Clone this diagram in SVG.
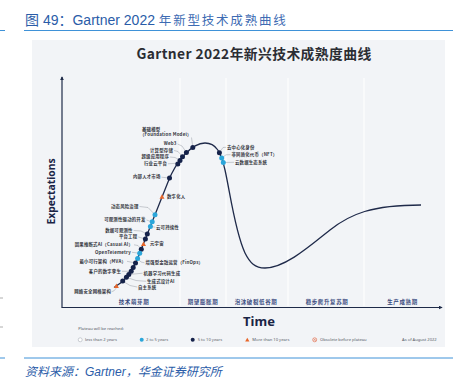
<svg xmlns="http://www.w3.org/2000/svg" xmlns:xlink="http://www.w3.org/1999/xlink" width="459" height="386" viewBox="0 0 459 386">
<style>
.hdr{font-family:"Liberation Sans","Noto Sans CJK SC",sans-serif;fill:#2a5ca8}
.rule{stroke:#3f92d8;stroke-width:1}
.lbl{font-family:"Noto Sans CJK SC","Noto Sans",sans-serif;font-size:4.4px;font-weight:700;fill:#34363d;letter-spacing:0.2px}
.ph{font-family:"Noto Sans CJK SC",sans-serif;font-size:5.5px;font-weight:700;fill:#3a4c80;letter-spacing:0.6px;text-anchor:middle}
.lg{font-family:"Noto Sans","Liberation Sans",sans-serif;font-size:4.1px;fill:#555a66}
.ax{stroke:#1e2a48;stroke-width:1.2;fill:none}
.sep{stroke:#ffffff;stroke-width:1.1}
.ld{stroke:#80858f;stroke-width:0.4;fill:none}
.nv{fill:#15224a}
.bl{fill:#2ba6da}
.or{fill:#e8662a}
.end{text-anchor:end}
</style>
<defs>
<marker id="arr" viewBox="0 0 6 6" refX="5" refY="3" markerWidth="4" markerHeight="4" orient="auto" markerUnits="userSpaceOnUse">
<path d="M0,0 L6,3 L0,6 Z" fill="#1e2a48"/>
</marker>
<path id="tri" d="M0,-2.7 L2.5,1.7 L-2.5,1.7 Z"/>
</defs>
<rect width="459" height="386" fill="#ffffff"/>
<!-- header -->
<text class="hdr" x="25" y="25" font-size="14"><tspan>图 49：Gartner 2022 </tspan><tspan font-family="Noto Sans CJK SC" font-size="12.5" letter-spacing="1.8" fill="#3d6bb3">年新型技术成熟曲线</tspan></text>
<line class="rule" x1="24" y1="30.5" x2="453" y2="30.5"/>
<line class="rule" x1="0" y1="30.5" x2="5" y2="30.5"/>
<!-- panel -->
<rect x="32" y="40" width="413" height="307" fill="#f2f4f7"/>
<text x="254" y="58.5" text-anchor="middle" font-family="Noto Sans CJK SC,Noto Sans,sans-serif" font-size="13.8" font-weight="700" fill="#2b2d33" letter-spacing="0.4">Gartner 2022年新兴技术成熟度曲线</text>
<!-- phase separators -->
<g id="phases">
<line class="sep" x1="180" y1="78" x2="180" y2="306"/>
<line class="sep" x1="226" y1="78" x2="226" y2="306"/>
<line class="sep" x1="288" y1="78" x2="288" y2="306"/>
<line class="sep" x1="364" y1="78" x2="364" y2="306"/>
<text class="ph" x="134" y="304">技术萌芽期</text>
<text class="ph" x="203" y="304">期望膨胀期</text>
<text class="ph" x="256" y="304">泡沫破裂低谷期</text>
<text class="ph" x="327" y="304">稳步爬升复苏期</text>
<text class="ph" x="402.5" y="304">生产成熟期</text>
</g>
<!-- axes -->
<g id="axes">
<line class="ax" x1="62" y1="307.5" x2="62" y2="77" marker-end="url(#arr)"/>
<line class="ax" x1="61.5" y1="307.5" x2="442" y2="307.5" marker-end="url(#arr)"/>
<text transform="translate(55.3,191.5) rotate(-90)" text-anchor="middle" font-family="Noto Sans,Liberation Sans,sans-serif" font-size="10.3" font-weight="700" fill="#1a2445">Expectations</text>
<text x="259" y="326" text-anchor="middle" font-family="Noto Sans,Liberation Sans,sans-serif" font-size="13" font-weight="700" fill="#1a2445">Time</text>
</g>
<!-- hype curve -->
<path id="curve" d="M114,287.5 C122,283 131.5,274 137,260 L168,182 C176,161 192,143 205,143 C216,143 221,152 225,170 C230,192 235,232 245,253 C250,263 255,268 265,268 C285,268 310,246 330,230 C350,214 372,205 421,205" fill="none" stroke="#1f2a4a" stroke-width="1.3"/>
<!-- leader lines -->
<g id="connectors">
<polyline class="ld" points="191.5,137.5 192.5,145"/>
<polyline class="ld" points="177.5,144 182,146 186.4,152.4"/>
<polyline class="ld" points="174,150.5 178,151.5 182.5,156.7"/>
<polyline class="ld" points="170,157 175,157.5 180,160.2"/>
<polyline class="ld" points="168,163.8 177.8,163.2"/>
<polyline class="ld" points="161.5,177.2 169.5,178"/>
<polyline class="ld" points="219.4,152.7 223,147.5 226,147.3"/>
<polyline class="ld" points="221.7,158.1 226,154.8 230.5,154.7"/>
<polyline class="ld" points="223.3,162.5 234,162.3"/>
<polyline class="ld" points="139.5,206.5 148,207.5 155,214.7"/>
<polyline class="ld" points="146.5,220 152.2,222"/>
<polyline class="ld" points="155.2,227.2 150.4,226.4"/>
<polyline class="ld" points="133.7,230.5 141,231 147.3,234.1"/>
<polyline class="ld" points="138.3,237 145.4,239"/>
<polyline class="ld" points="134,244.8 138,245.5 141.3,249.3"/>
<polyline class="ld" points="132,252.3 139.7,253.3"/>
<polyline class="ld" points="144.5,262.8 141,262 137.6,258.5"/>
<polyline class="ld" points="127,261.3 135.5,263"/>
<polyline class="ld" points="122,271.3 131.2,271.3"/>
<polyline class="ld" points="142.6,273.2 128.8,274.5"/>
<polyline class="ld" points="146.2,281.3 136,280.5 126.4,277.3"/>
<polyline class="ld" points="137.2,287 130,285.5 122.7,281.1"/>
<path class="ld" d="M111.5,291.8 Q114.5,291.5 116.4,287.8"/>
</g>
<!-- nodes -->
<g id="n-foundation"><circle class="nv" cx="192.8" cy="147.4" r="2.5"/><text class="lbl" x="142" y="130.5">基础模型</text><text class="lbl" x="140" y="136.3">（Foundation Model）</text></g>
<g id="n-web3"><circle class="nv" cx="186.4" cy="152.4" r="2.5"/><text class="lbl end" x="176.5" y="144.8">Web3</text></g>
<g id="n-storage"><circle class="nv" cx="182.5" cy="156.7" r="2.5"/><text class="lbl end" x="173" y="151.6">计算型存储</text></g>
<g id="n-superapp"><circle class="nv" cx="180" cy="160.4" r="2.5"/><text class="lbl end" x="169" y="158.2">超级应用程序</text></g>
<g id="n-industrycloud"><circle class="nv" cx="177.8" cy="164" r="2.5"/><text class="lbl end" x="167" y="165">行业云平台</text></g>
<g id="n-talent"><circle class="nv" cx="169.5" cy="178" r="2.5"/><text class="lbl end" x="160.5" y="178.4">内部人才市场</text></g>
<g id="n-digitalhuman"><use href="#tri" x="162" y="197" class="or"/><text class="lbl" x="167" y="197.8">数字化人</text></g>
<g id="n-did"><circle class="nv" cx="219.4" cy="152.7" r="2.5"/><text class="lbl" x="227" y="148.6">去中心化身份</text></g>
<g id="n-nft"><circle class="bl" cx="221.7" cy="158.1" r="2.5"/><text class="lbl" x="231.5" y="156">非同质化代币（NFT）</text></g>
<g id="n-clouddata"><circle class="bl" cx="223.3" cy="162.5" r="2.5"/><text class="lbl" x="235" y="163.6">云数据生态系统</text></g>
<g id="n-riskgov"><circle class="bl" cx="155" cy="214.7" r="2.5"/><text class="lbl end" x="138.5" y="207.8">动态风险治理</text></g>
<g id="n-odd"><circle class="bl" cx="152.2" cy="221.7" r="2.5"/><text class="lbl end" x="145.5" y="221">可观测性驱动的开发</text></g>
<g id="n-cloudsus"><circle class="bl" cx="150.4" cy="226.4" r="2.5"/><text class="lbl" x="156" y="228.6">云可持续性</text></g>
<g id="n-dataobs"><circle class="nv" cx="147.3" cy="234.1" r="2.5"/><text class="lbl end" x="132.7" y="231.8">数据可观测性</text></g>
<g id="n-platform"><circle class="nv" cx="145.4" cy="239" r="2.5"/><text class="lbl end" x="137.3" y="238.2">平台工程</text></g>
<g id="n-metaverse"><use href="#tri" x="143.5" y="244.2" class="or"/><text class="lbl" x="150" y="245">元宇宙</text></g>
<g id="n-causal"><circle class="nv" cx="141.3" cy="249.3" r="2.5"/><text class="lbl end" x="133" y="246.2">因果推断式AI（Casual AI）</text></g>
<g id="n-otel"><circle class="bl" cx="139.7" cy="253.3" r="2.5"/><text class="lbl end" x="131" y="253.6">OpenTelemetry</text></g>
<g id="n-finops"><circle class="bl" cx="137.6" cy="258.5" r="2.5"/><text class="lbl" x="145.5" y="264">增强型金融运营（FinOps）</text></g>
<g id="n-mva"><circle class="nv" cx="135.5" cy="263" r="2.5"/><text class="lbl end" x="126" y="262.8">最小可行架构（MVA）</text></g>
<g id="n-dot11"><circle class="nv" cx="133.2" cy="267.6" r="2.5"/></g>
<g id="n-twin"><circle class="nv" cx="131.2" cy="271.3" r="2.5"/><text class="lbl end" x="121" y="272.8">客户的数字孪生</text></g>
<g id="n-mlcode"><circle class="nv" cx="128.8" cy="274.5" r="2.5"/><text class="lbl" x="143.5" y="274.8">机器学习代码生成</text></g>
<g id="n-gendesign"><circle class="nv" cx="126.4" cy="277.3" r="2.5"/><text class="lbl" x="147" y="282.8">生成式设计AI</text></g>
<g id="n-autonomic"><circle class="nv" cx="122.7" cy="281.1" r="2.5"/><text class="lbl" x="138" y="288.6">自主系统</text></g>
<g id="n-mesh"><use href="#tri" x="116.4" y="286.3" class="or"/><text class="lbl end" x="111" y="293.2">网络安全网格架构</text></g>
<!-- legend -->
<g id="legend">
<text class="lg" x="78.3" y="330" font-size="3.7">Plateau will be reached:</text>
<circle cx="80.2" cy="339.8" r="2" fill="#ffffff" stroke="#9aa0aa" stroke-width="0.5"/>
<text class="lg" x="85" y="341.3">less than 2 years</text>
<circle class="bl" cx="141.7" cy="339.8" r="2"/>
<text class="lg" x="146" y="341.3">2 to 5 years</text>
<circle class="nv" cx="192.7" cy="339.8" r="2"/>
<text class="lg" x="197.7" y="341.3">5 to 10 years</text>
<use href="#tri" x="247.3" y="340" class="or" transform="translate(247.3,340) scale(0.85) translate(-247.3,-340)"/>
<text class="lg" x="252.3" y="341.3">More than 10 years</text>
<circle cx="314.7" cy="339.8" r="2" fill="none" stroke="#e0603a" stroke-width="0.6"/>
<path d="M313.6,338.7 L315.8,340.9 M315.8,338.7 L313.6,340.9" stroke="#e0603a" stroke-width="0.5"/>
<text class="lg" x="320" y="341.3">Obsolete before plateau</text>
<text class="lg" x="436.7" y="341.3" text-anchor="end">As of August 2022</text>
</g>
<!-- footer -->
<line class="rule" x1="24" y1="358" x2="453" y2="358"/>
<line class="rule" x1="0" y1="358" x2="5" y2="358"/>
<line x1="0" y1="298" x2="3" y2="298" stroke="#999" stroke-width="0.8"/>
<line x1="0" y1="327" x2="3" y2="327" stroke="#999" stroke-width="0.8"/>
<text x="25" y="376" font-family="Liberation Sans,Noto Sans CJK SC,sans-serif" font-size="12" font-style="italic" fill="#2a5ca8">资料来源：Gartner，华金证券研究所</text>
</svg>
